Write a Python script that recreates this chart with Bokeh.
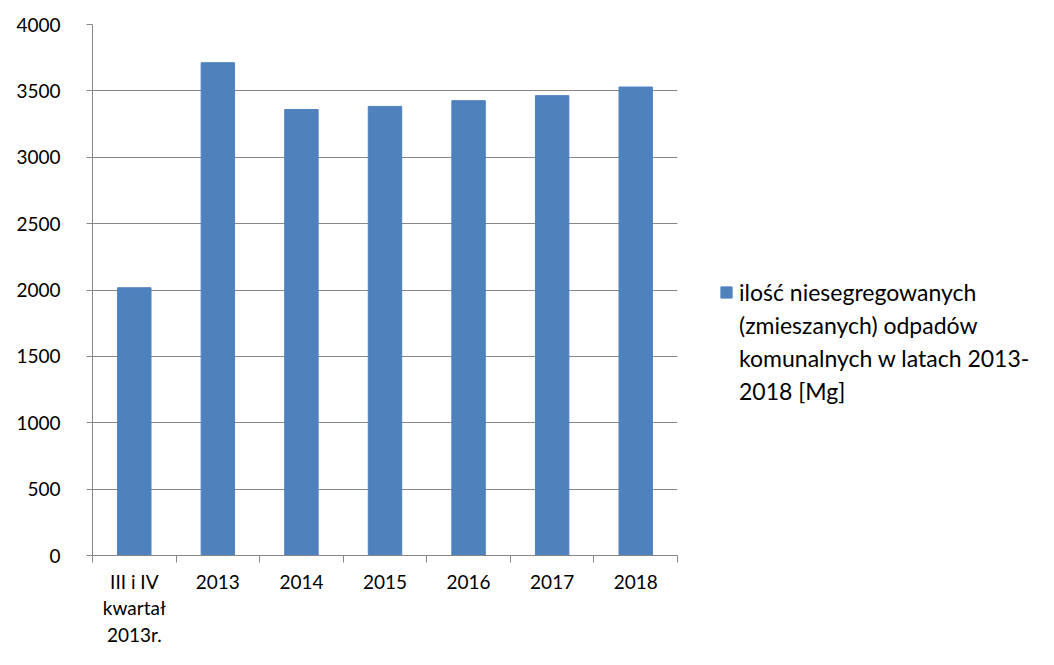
from bokeh.plotting import figure
from bokeh.layouts import row
from bokeh.models import Legend, LegendItem, FixedTicker, ColumnDataSource, Range1d
from bokeh.embed import file_html
from bokeh.resources import INLINE

categories = ["III i IV\nkwartał\n2013r.", "2013", "2014", "2015", "2016", "2017", "2018"]
values = [2017, 3712, 3359, 3383, 3426, 3464, 3529]
y_ticks = [0, 500, 1000, 1500, 2000, 2500, 3000, 3500, 4000]
series_name_lines = ["ilość niesegregowanych", "(zmieszanych) odpadów",
                     "komunalnych w latach 2013-", "2018 [Mg]"]

FONT = "Lato"
BAR = "#4F81BD"
GRID = "#878787"

xs = [i + 0.5 for i in range(len(categories))]
src = ColumnDataSource(dict(x=xs, top=values))

p = figure(width=690, height=649, output_backend="svg", toolbar_location=None,
           x_range=Range1d(0, len(categories)), y_range=Range1d(0, 4000),
           min_border_left=92, min_border_top=24, min_border_right=13, min_border_bottom=92)
p.outline_line_color = None
p.background_fill_color = "white"
p.border_fill_color = "white"

r = p.vbar(x="x", top="top", width=0.4, source=src, fill_color=BAR, line_color=BAR)

# y axis
p.yaxis.ticker = FixedTicker(ticks=y_ticks)
p.yaxis.axis_line_color = GRID
p.yaxis.major_tick_line_color = GRID
p.yaxis.major_tick_out = 6
p.yaxis.major_tick_in = 0
p.yaxis.minor_tick_line_color = None
p.yaxis.major_label_standoff = 26
p.yaxis.major_label_text_font = FONT
p.yaxis.major_label_text_font_size = "19px"
p.yaxis.major_label_text_color = "#000000"

p.ygrid.ticker = FixedTicker(ticks=y_ticks)
p.ygrid.grid_line_color = GRID
p.ygrid.grid_line_width = 1
p.xgrid.grid_line_color = None

# x axis
p.xaxis.ticker = FixedTicker(ticks=xs, minor_ticks=list(range(len(categories) + 1)))
p.xaxis.major_label_overrides = {x: c for x, c in zip(xs, categories)}
p.xaxis.axis_line_color = GRID
p.xaxis.major_tick_line_color = None
p.xaxis.major_tick_out = 0
p.xaxis.major_tick_in = 0
p.xaxis.minor_tick_line_color = GRID
p.xaxis.minor_tick_out = 7
p.xaxis.minor_tick_in = 0
p.xaxis.major_label_standoff = 7
p.xaxis.major_label_text_font = FONT
p.xaxis.major_label_text_font_size = "19px"
p.xaxis.major_label_text_color = "#000000"
p.xaxis.major_label_text_line_height = 1.17

# legend panel (separate figure to the right); its bar renderer lies outside the view
q = figure(width=348, height=649, output_backend="svg", toolbar_location=None,
           x_range=Range1d(-20, -19), y_range=Range1d(-20, -19),
           x_axis_location=None, y_axis_location=None,
           min_border_left=0, min_border_right=0, min_border_top=0, min_border_bottom=0)
q.outline_line_color = None
q.grid.grid_line_color = None
q.background_fill_color = "white"
q.border_fill_color = "white"
r2 = q.vbar(x="x", top="top", width=0.4, source=src, fill_color=BAR, line_color=BAR)

items = [LegendItem(label=series_name_lines[0], renderers=[r2])]
items += [LegendItem(label=t, renderers=[]) for t in series_name_lines[1:]]
legend = Legend(items=items,
                location=(29, 150), padding=0, margin=0, border_line_color=None,
                background_fill_alpha=0, glyph_width=14, glyph_height=14, spacing=5,
                label_standoff=6, label_text_font=FONT, label_text_font_size="23px",
                label_text_color="#000000", label_height=28)
q.add_layout(legend, "center")

layout = row(p, q, spacing=0)
open("out.html", "w").write(file_html(layout, INLINE))
